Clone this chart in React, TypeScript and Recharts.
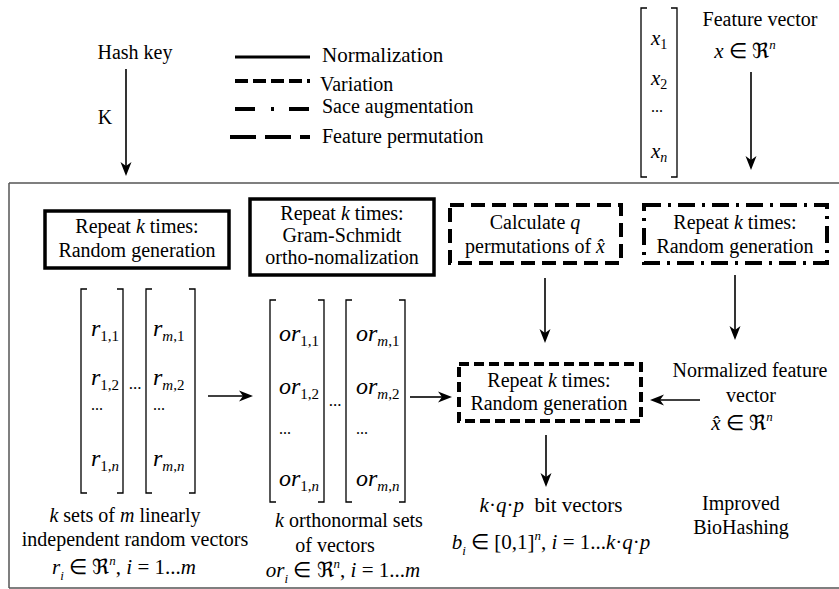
import React from 'react';
import { ScatterChart, Scatter, XAxis, YAxis, ReferenceArea, ReferenceLine } from 'recharts';

const W = 839;
const H = 589;
const FONT = '"Liberation Serif", "Times New Roman", Times, serif';

// ---------- text content ----------
const topLabels = ['Hash key', 'K', 'Feature vector', '*x* ∈ ℜ^{*n*}'];
const legendLabels = ['Normalization', 'Variation', 'Sace augmentation', 'Feature permutation'];
const boxLabels = [
  ['Repeat *k* times:', 'Random generation'],
  ['Repeat *k* times:', 'Gram-Schmidt', 'ortho-nomalization'],
  ['Calculate *q*', 'permutations of *x̂*'],
  ['Repeat *k* times:', 'Random generation'],
  ['Repeat *k* times:', 'Random generation'],
];
const noteLabels = [
  'Normalized feature', 'vector', '*x̂* ∈ ℜ^{*n*}',
  'Improved', 'BioHashing',
  '*k*·*q*·*p*  bit vectors', '*b*_{*i*} ∈ [0,1]^{*n*}, *i* = 1...*k*·*q*·*p*',
  '*k* sets of *m* linearly', 'independent random vectors', '*r*_{*i*} ∈ ℜ^{*n*}, *i* = 1...*m*',
  '*k* orthonormal sets', 'of vectors', '*or*_{*i*} ∈ ℜ^{*n*}, *i* = 1...*m*',
];
const featureCells = ['*x*_{1}', '*x*_{2}', '...', '*x*_{*n*}'];
const rCells = [
  ['*r*_{1,1}', '*r*_{1,2}', '...', '*r*_{1,*n*}'],
  ['*r*_{*m*,1}', '*r*_{*m*,2}', '...', '*r*_{*m*,*n*}'],
];
const orCells = [
  ['*or*_{1,1}', '*or*_{1,2}', '...', '*or*_{1,*n*}'],
  ['*or*_{*m*,1}', '*or*_{*m*,2}', '...', '*or*_{*m*,*n*}'],
];
const betweenDots = ['...', '...'];

// ---------- layout (positions, sizes, styles) ----------
const topPos = [
  { x: 135, y: 59, fs: 20, a: 'middle' },
  { x: 105, y: 124, fs: 20, a: 'middle' },
  { x: 760, y: 26, fs: 20, a: 'middle' },
  { x: 745, y: 58, fs: 21, a: 'middle' },
];
const legendPos = [
  { ly: 57, x1: 235, x2: 310, dash: '', sw: 3, tx: 322, ty: 62, fs: 21 },
  { ly: 81, x1: 235, x2: 310, dash: '13 5', sw: 4, tx: 320, ty: 91, fs: 20 },
  { ly: 109, x1: 235, x2: 310, dash: '20 16 3 15', sw: 4, tx: 322, ty: 113, fs: 20 },
  { ly: 137, x1: 230, x2: 310, dash: '26 9', sw: 4, tx: 322, ty: 143, fs: 20 },
];
const boxPos = [
  { x1: 45, x2: 229, y1: 211, y2: 268, dash: '', sw: 3.5, cx: 137, ys: [233, 257] },
  { x1: 250, x2: 434, y1: 199, y2: 275, dash: '', sw: 3.5, cx: 342, ys: [220, 242, 264] },
  { x1: 450, x2: 621, y1: 205, y2: 263, dash: '14 7', sw: 4, cx: 535, ys: [229, 253] },
  { x1: 644, x2: 827, y1: 205, y2: 263, dash: '17 7 3 7', sw: 4, cx: 735, ys: [229, 253] },
  { x1: 459, x2: 641, y1: 364, y2: 421, dash: '10 5', sw: 4, cx: 549, ys: [387, 410] },
];
const notePos = [
  { x: 750, y: 377, fs: 20 }, { x: 751, y: 402, fs: 20 }, { x: 742, y: 430, fs: 21 },
  { x: 741, y: 510, fs: 20 }, { x: 741, y: 534, fs: 20 },
  { x: 551, y: 512, fs: 21 }, { x: 551, y: 549, fs: 21 },
  { x: 125, y: 522, fs: 20 }, { x: 135, y: 546, fs: 20 }, { x: 124, y: 574, fs: 21 },
  { x: 349, y: 527, fs: 20 }, { x: 335, y: 552, fs: 20 }, { x: 343, y: 577, fs: 21 },
];
const matrixPos = [
  { x1: 641, x2: 677, y1: 8, y2: 177, left: 651, ys: [45, 85, 112, 158], fs: 21, sub: 14 },
  { x1: 81, x2: 123, y1: 289, y2: 493, left: 91, ys: [336, 385, 410, 466], fs: 24, sub: 15 },
  { x1: 146, x2: 195, y1: 289, y2: 493, left: 153, ys: [336, 385, 410, 466], fs: 24, sub: 15 },
  { x1: 270, x2: 324, y1: 300, y2: 502, left: 279, ys: [341, 394, 434, 486], fs: 24, sub: 15 },
  { x1: 346, x2: 405, y1: 300, y2: 502, left: 356, ys: [341, 394, 434, 486], fs: 24, sub: 15 },
];
const betweenPos = [{ x: 135, y: 389 }, { x: 335, y: 406 }];
const arrows = [
  [126, 69, 126, 176],
  [751, 72, 751, 170],
  [545, 278, 545, 343],
  [735, 275, 735, 340],
  [208, 396, 253, 396],
  [410, 397, 452, 397],
  [700, 400, 650, 400],
  [546, 435, 546, 487],
];
const frame = [
  [9, 183, 839, 183],
  [9, 183, 9, 588],
  [9, 588, 839, 588],
];

// ---------- rich text ----------
type Seg = { t: string; it: boolean; mode: 'n' | 'sub' | 'sup' };
function parse(s: string): Seg[] {
  const out: Seg[] = [];
  let it = false;
  let mode: 'n' | 'sub' | 'sup' = 'n';
  let buf = '';
  const flush = () => {
    if (buf) { out.push({ t: buf, it, mode }); buf = ''; }
  };
  for (let i = 0; i < s.length; i++) {
    const c = s[i];
    if (c === '*') { flush(); it = !it; continue; }
    if ((c === '_' || c === '^') && s[i + 1] === '{') { flush(); mode = c === '_' ? 'sub' : 'sup'; i++; continue; }
    if (c === '}' && mode !== 'n') { flush(); mode = 'n'; continue; }
    buf += c;
  }
  flush();
  return out;
}

function Rich({ x, y, text, fs, anchor, sub }: any) {
  const segs = parse(text);
  let shift = 0;
  const subFs = sub || Math.round(fs * 0.62);
  const subShift = sub ? fs * 0.2 : fs * 0.3;
  return (
    <text x={x} y={y} textAnchor={anchor} style={{ fontFamily: FONT, fontSize: fs, whiteSpace: 'pre' }} fill="#000">
      {segs.map((s, i) => {
        const target = s.mode === 'sub' ? subShift : s.mode === 'sup' ? -fs * 0.42 : 0;
        const dy = target - shift;
        shift = target;
        return (
          <tspan
            key={i}
            dy={dy === 0 ? undefined : dy}
            style={{ fontFamily: FONT, fontStyle: s.it ? 'italic' : 'normal', fontSize: s.mode === 'n' ? fs : subFs }}
          >
            {s.t}
          </tspan>
        );
      })}
    </text>
  );
}

// build text points
const textPoints: any[] = [];
topLabels.forEach((t, i) => textPoints.push({ x: topPos[i].x, y: topPos[i].y, text: t, fs: topPos[i].fs, anchor: topPos[i].a }));
legendLabels.forEach((t, i) => textPoints.push({ x: legendPos[i].tx, y: legendPos[i].ty, text: t, fs: legendPos[i].fs, anchor: 'start' }));
boxLabels.forEach((lines, b) => lines.forEach((t, j) => textPoints.push({ x: boxPos[b].cx, y: boxPos[b].ys[j], text: t, fs: 20, anchor: 'middle' })));
noteLabels.forEach((t, i) => textPoints.push({ x: notePos[i].x, y: notePos[i].y, text: t, fs: notePos[i].fs, anchor: 'middle' }));
const allCells = [featureCells, rCells[0], rCells[1], orCells[0], orCells[1]];
allCells.forEach((cells, m) => cells.forEach((t, j) => {
  const mp = matrixPos[m];
  const isDots = t === '...';
  textPoints.push({ x: mp.left, y: mp.ys[j], text: t, fs: isDots ? 16 : mp.fs, sub: mp.sub, anchor: 'start' });
}));
betweenDots.forEach((t, i) => textPoints.push({ x: betweenPos[i].x, y: betweenPos[i].y, text: t, fs: 17, anchor: 'middle' }));

const TextShape = (props: any) => {
  const p = props.payload || props;
  return <Rich x={props.cx} y={props.cy} text={p.text} fs={p.fs} anchor={p.anchor} sub={p.sub} />;
};

const ArrowShape = (p: any) => {
  const { x1, y1, x2, y2 } = p;
  const dx = x2 - x1;
  const dy = y2 - y1;
  const len = Math.sqrt(dx * dx + dy * dy) || 1;
  const ux = dx / len;
  const uy = dy / len;
  const hl = 14;
  const hw = 5.5;
  const bx = x2 - ux * hl;
  const by = y2 - uy * hl;
  const pts = `${x2},${y2} ${bx - uy * hw},${by + ux * hw} ${bx + ux * 4},${by + uy * 4} ${bx + uy * hw},${by - ux * hw}`;
  return (
    <g>
      <line x1={x1} y1={y1} x2={bx + ux * 4} y2={by + uy * 4} stroke="#000" strokeWidth={1.6} />
      <polygon points={pts} fill="#000" stroke="none" />
    </g>
  );
};

const BracketShape = (p: any) => {
  const { x, y, width, height } = p;
  const t = 6;
  const d = `M${x + t},${y} L${x},${y} L${x},${y + height} L${x + t},${y + height} M${x + width - t},${y} L${x + width},${y} L${x + width},${y + height} L${x + width - t},${y + height}`;
  return <path d={d} fill="none" stroke="#000" strokeWidth={1.3} />;
};

export default function App() {
  return (
    <div style={{ position: 'absolute', left: 0, top: 0, width: W, height: H, background: '#fff', fontFamily: FONT }}>
      <ScatterChart width={W} height={H} margin={{ top: 0, right: 0, bottom: 0, left: 0 }} style={{ fontFamily: FONT }}>
        <XAxis type="number" dataKey="x" domain={[0, W]} hide allowDataOverflow />
        <YAxis type="number" dataKey="y" domain={[0, H]} reversed hide allowDataOverflow />
        {frame.map((f, i) => (
          <ReferenceLine key={'f' + i} segment={[{ x: f[0], y: f[1] }, { x: f[2], y: f[3] }]} stroke="#555" strokeWidth={1.5} ifOverflow="visible" />
        ))}
        {legendPos.map((l, i) => (
          <ReferenceLine key={'l' + i} segment={[{ x: l.x1, y: l.ly }, { x: l.x2, y: l.ly }]} stroke="#000" strokeWidth={l.sw} strokeDasharray={l.dash || undefined} ifOverflow="visible" />
        ))}
        {boxPos.map((b, i) => (
          <ReferenceArea key={'b' + i} x1={b.x1} x2={b.x2} y1={b.y1} y2={b.y2} fill="none" fillOpacity={0} stroke="#000" strokeWidth={b.sw} strokeDasharray={b.dash || undefined} ifOverflow="visible" />
        ))}
        {matrixPos.map((m, i) => (
          <ReferenceArea key={'m' + i} x1={m.x1} x2={m.x2} y1={m.y1} y2={m.y2} ifOverflow="visible" shape={BracketShape} />
        ))}
        {arrows.map((a, i) => (
          <ReferenceLine key={'a' + i} segment={[{ x: a[0], y: a[1] }, { x: a[2], y: a[3] }]} ifOverflow="visible" shape={ArrowShape} />
        ))}
        <Scatter data={textPoints} shape={TextShape} isAnimationActive={false} />
      </ScatterChart>
    </div>
  );
}
